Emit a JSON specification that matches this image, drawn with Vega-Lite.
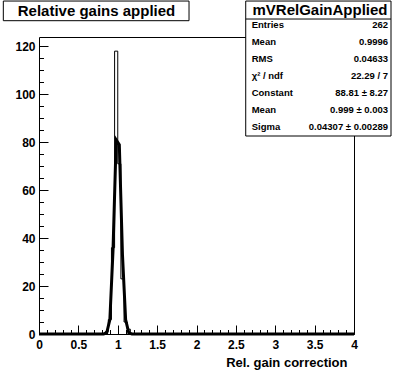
{
  "$schema": "https://vega.github.io/schema/vega-lite/v6.json",
  "width": 315,
  "height": 297,
  "autosize": {"type": "none"},
  "padding": {"left": 39, "top": 37, "right": 42, "bottom": 38},
  "background": "white",
  "config": {
    "view": {"stroke": "black", "strokeWidth": 1},
    "font": "Liberation Sans",
    "axis": {"grid": false, "domainColor": "black", "tickColor": "black", "labelColor": "black", "titleColor": "black", "labelFont": "Liberation Sans", "labelFontWeight": "bold", "labelFontSize": 12, "titleFont": "Liberation Sans", "titleFontWeight": "bold", "labelFlush": false, "labelOverlap": false, "tickWidth": 1, "domainWidth": 1, "tickOpacity": 1}
  },
  "resolve": {"axis": {"x": "independent", "y": "independent"}},
  "layer": [
    {
      "data": {"values": [
        {"bin_start": 0.80, "count": 0},
        {"bin_start": 0.84, "count": 1},
        {"bin_start": 0.88, "count": 6},
        {"bin_start": 0.92, "count": 36},
        {"bin_start": 0.96, "count": 118},
        {"bin_start": 1.00, "count": 71},
        {"bin_start": 1.04, "count": 23},
        {"bin_start": 1.08, "count": 5},
        {"bin_start": 1.12, "count": 2},
        {"bin_start": 1.16, "count": 0}
      ]},
      "mark": {"type": "line", "interpolate": "step-after", "color": "black", "strokeWidth": 1},
      "encoding": {
        "x": {"field": "bin_start", "type": "quantitative", "scale": {"domain": [0, 4], "nice": false, "zero": false},
          "axis": {"orient": "bottom", "values": [0, 0.5, 1, 1.5, 2, 2.5, 3, 3.5, 4], "ticks": false, "labelPadding": 5, "format": "~g", "title": "Rel. gain correction", "titleFontSize": 13, "titleAnchor": "end", "titleAlign": "right", "titleX": 308, "titleY": 32, "titleBaseline": "alphabetic"}},
        "y": {"field": "count", "type": "quantitative", "scale": {"domain": [0, 123.9], "nice": false},
          "axis": {"orient": "left", "values": [0, 20, 40, 60, 80, 100, 120], "ticks": true, "tickSize": 9, "offset": -9, "domain": false, "labelPadding": 4, "title": null}}
      }
    },
    {
      "data": {"values": [
        {"x": 0.0, "fit": 0},
        {"x": 0.82, "fit": 0},
        {"x": 0.86, "fit": 0.5},
        {"x": 0.90, "fit": 6},
        {"x": 0.94, "fit": 35},
        {"x": 0.98, "fit": 81},
        {"x": 1.02, "fit": 79},
        {"x": 1.06, "fit": 33},
        {"x": 1.10, "fit": 6},
        {"x": 1.14, "fit": 0.5},
        {"x": 1.18, "fit": 0},
        {"x": 4.0, "fit": 0}
      ]},
      "mark": {"type": "line", "color": "black", "strokeWidth": 3, "strokeJoin": "miter"},
      "encoding": {
        "x": {"field": "x", "type": "quantitative",
          "axis": {"orient": "bottom", "values": [0, 0.5, 1, 1.5, 2, 2.5, 3, 3.5, 4], "ticks": true, "tickSize": 9, "offset": -9, "labels": false, "domain": false, "title": null}},
        "y": {"field": "fit", "type": "quantitative",
          "axis": {"orient": "left", "values": [5,10,15,25,30,35,45,50,55,65,70,75,85,90,95,105,110,115], "ticks": true, "tickSize": 4.5, "offset": -4.5, "labels": false, "domain": false, "title": null}}
      }
    },
    {
      "data": {"values": [{}]},
      "mark": {"type": "rect", "fill": "white", "stroke": "black", "strokeWidth": 1, "clip": false},
      "encoding": {
        "x": {"datum": -0.453, "type": "quantitative",
          "axis": {"orient": "bottom", "values": [0.1,0.2,0.3,0.4,0.6,0.7,0.8,0.9,1.1,1.2,1.3,1.4,1.6,1.7,1.8,1.9,2.1,2.2,2.3,2.4,2.6,2.7,2.8,2.9,3.1,3.2,3.3,3.4,3.6,3.7,3.8,3.9], "ticks": true, "tickSize": 4.5, "offset": -4.5, "labels": false, "domain": false, "title": null}},
        "x2": {"datum": 1.905},
        "y": {"datum": 138.9, "type": "quantitative", "axis": null},
        "y2": {"datum": 130.7}
      }
    },
    {
      "data": {"values": [{}]},
      "mark": {"type": "text", "text": "Relative gains applied", "font": "Liberation Sans", "fontWeight": "bold", "fontSize": 15, "align": "center", "baseline": "alphabetic", "color": "black", "clip": false},
      "encoding": {
        "x": {"datum": 0.73, "type": "quantitative", "axis": null},
        "y": {"datum": 132.7, "type": "quantitative", "axis": null}
      }
    },
    {
      "data": {"values": [{}]},
      "mark": {"type": "rect", "fill": "white", "stroke": "black", "strokeWidth": 1, "clip": false},
      "encoding": {
        "x": {"datum": 2.625, "type": "quantitative", "axis": null},
        "x2": {"datum": 4.47},
        "y": {"datum": 138.9, "type": "quantitative", "axis": null},
        "y2": {"datum": 82.6}
      }
    },
    {
      "data": {"values": [{}]},
      "mark": {"type": "rule", "color": "black", "strokeWidth": 1, "clip": false},
      "encoding": {
        "x": {"datum": 2.625, "type": "quantitative", "axis": null},
        "x2": {"datum": 4.47},
        "y": {"datum": 131.4, "type": "quantitative", "axis": null}
      }
    },
    {
      "data": {"values": [{}]},
      "mark": {"type": "text", "text": "mVRelGainApplied", "font": "Liberation Sans", "fontWeight": "bold", "fontSize": 15, "align": "center", "baseline": "alphabetic", "color": "black", "clip": false},
      "encoding": {
        "x": {"datum": 3.568, "type": "quantitative", "axis": null},
        "y": {"datum": 132.96, "type": "quantitative", "axis": null}
      }
    },
    {
      "data": {"values": [{}]},
      "mark": {"type": "text", "text": ["Entries", "Mean", "RMS", "χ² / ndf", "Constant", "Mean", "Sigma"], "lineHeight": 17, "font": "Liberation Sans", "fontWeight": "bold", "fontSize": 9.5, "align": "left", "baseline": "alphabetic", "color": "black", "clip": false},
      "encoding": {
        "x": {"datum": 2.701, "type": "quantitative", "axis": null},
        "y": {"datum": 127.66, "type": "quantitative", "axis": null}
      }
    },
    {
      "data": {"values": [{}]},
      "mark": {"type": "text", "text": ["262", "0.9996", "0.04633", "22.29 / 7", "88.81 ± 8.27", "0.999 ± 0.003", "0.04307 ± 0.00289"], "lineHeight": 17, "font": "Liberation Sans", "fontWeight": "bold", "fontSize": 9.5, "align": "right", "baseline": "alphabetic", "color": "black", "clip": false},
      "encoding": {
        "x": {"datum": 4.432, "type": "quantitative", "axis": null},
        "y": {"datum": 127.66, "type": "quantitative", "axis": null}
      }
    }
  ]
}
